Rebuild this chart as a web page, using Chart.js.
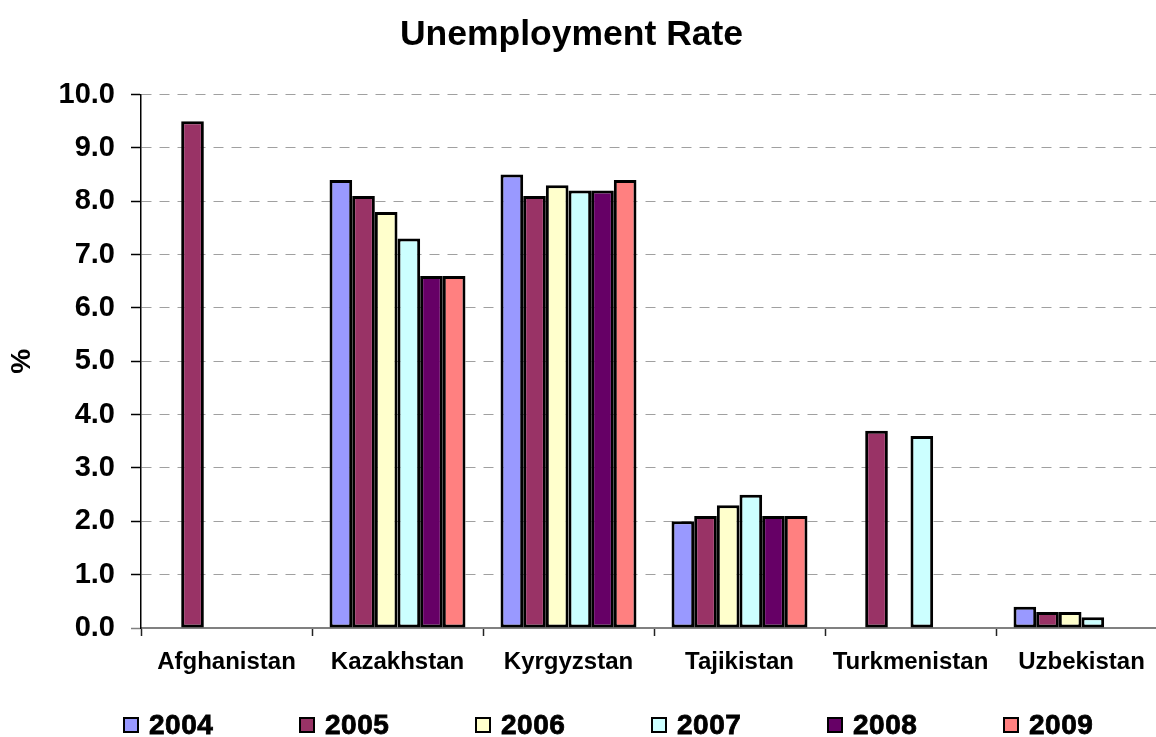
<!DOCTYPE html>
<html>
<head>
<meta charset="utf-8">
<title>Unemployment Rate</title>
<script src="https://cdn.jsdelivr.net/npm/chart.js@4.4.1/dist/chart.umd.min.js"></script>
<style>
  html, body { margin: 0; padding: 0; background: #fff; overflow: hidden; }
  #UnemploymentCanvas { display: block; }
</style>
</head>
<body>
<canvas id="UnemploymentCanvas" width="1170" height="737"></canvas>
<script>
//------------------------------------------------------------------------------
// Unemployment rate (%) by country, 2004-2009
//------------------------------------------------------------------------------
const countries = ['Afghanistan', 'Kazakhstan', 'Kyrgyzstan', 'Tajikistan', 'Turkmenistan', 'Uzbekistan']
const years = ['2004', '2005', '2006', '2007', '2008', '2009']

const rate2004 = [null, 8.4, 8.5, 2.0, null, 0.4]
const rate2005 = [9.5, 8.1, 8.1, 2.1, 3.7, 0.3]
const rate2006 = [null, 7.8, 8.3, 2.3, null, 0.3]
const rate2007 = [null, 7.3, 8.2, 2.5, 3.6, 0.2]
const rate2008 = [null, 6.6, 8.2, 2.1, null, null]
const rate2009 = [null, 6.6, 8.4, 2.1, null, null]

const yTicks = [0, 1, 2, 3, 4, 5, 6, 7, 8, 9, 10]

const yearColors = ['#9999FF', '#993366', '#FFFFCC', '#CCFFFF', '#660066', '#FF8080']
const yearRates = [rate2004, rate2005, rate2006, rate2007, rate2008, rate2009]

const fontFamily = '"Liberation Sans", Arial, Helvetica, sans-serif'

const canvas = document.getElementById('UnemploymentCanvas')

// Legend drawn along the bottom edge, one box + year per dataset
const bottomLegend = {
    id: 'bottomLegend',
    afterDraw(chart) {
        const ctx = chart.ctx
        const step = 176
        let x = chart.chartArea.left - 18
        const boxTop = 717
        const boxSize = 16
        ctx.save()
        ctx.font = 'bold 28px ' + fontFamily
        ctx.textBaseline = 'middle'
        ctx.textAlign = 'left'
        if ('letterSpacing' in ctx) ctx.letterSpacing = '0.5px'
        chart.data.datasets.forEach((ds) => {
            ctx.fillStyle = ds.backgroundColor
            ctx.fillRect(x, boxTop, boxSize, boxSize)
            ctx.lineWidth = 2
            ctx.strokeStyle = '#000'
            ctx.strokeRect(x + 1, boxTop + 1, boxSize - 2, boxSize - 2)
            // slightly heavier strokes for the year labels
            ctx.fillStyle = '#000'
            ctx.strokeStyle = '#000'
            ctx.lineWidth = 0.8
            ctx.fillText(ds.label, x + boxSize + 10, boxTop + boxSize / 2 + 1)
            ctx.strokeText(ds.label, x + boxSize + 10, boxTop + boxSize / 2 + 1)
            x += step
        })
        ctx.restore()
    }
}

const unemploymentChart = new Chart(canvas, {
    type: 'bar',
    data: {
        labels: countries,
        datasets: years.map((yr, i) => ({
            label: yr,
            data: yearRates[i],
            backgroundColor: yearColors[i],
            borderColor: '#000',
            borderWidth: 3,
            borderSkipped: false,
            categoryPercentage: 0.795,
            barPercentage: 1.0
        }))
    },
    options: {
        responsive: false,
        animation: false,
        devicePixelRatio: 1,
        layout: {
            padding: { left: -24, right: 3, top: 0, bottom: 49 }
        },
        plugins: {
            legend: { display: false },
            tooltip: { enabled: false },
            title: {
                display: true,
                text: 'Unemployment Rate',
                color: '#000',
                font: { family: fontFamily, size: 35.5, weight: 'bold' },
                padding: { top: 14, bottom: 38 }
            }
        },
        scales: {
            x: {
                afterFit(scale) { scale.height = 60 },
                grid: {
                    display: true,
                    offset: true,
                    drawOnChartArea: false,
                    drawTicks: true,
                    tickLength: 8,
                    tickColor: '#222',
                    tickWidth: 1.5
                },
                border: { display: true, color: '#808080', width: 2 },
                ticks: {
                    color: '#000',
                    padding: 12,
                    maxRotation: 0,
                    autoSkip: false,
                    font: { family: fontFamily, size: 24, weight: 'bold' }
                }
            },
            y: {
                min: 0,
                max: 10,
                afterFit(scale) { scale.width = 165 },
                afterBuildTicks(scale) { scale.ticks = yTicks.map(v => ({ value: v })) },
                title: {
                    display: true,
                    text: '%',
                    color: '#000',
                    font: { family: fontFamily, size: 28, weight: 'bold' },
                    padding: { top: 29, bottom: 0 }
                },
                grid: {
                    color: '#a0a0a0',
                    lineWidth: 1,
                    drawTicks: true,
                    tickLength: 10,
                    tickColor: (c) => (c.tick && c.tick.value === 0 ? '#808080' : '#000'),
                    tickWidth: 1.5
                },
                border: { display: true, color: '#000', width: 1.5, dash: [10, 8] },
                ticks: {
                    color: '#000',
                    padding: 16,
                    font: { family: fontFamily, size: 29, weight: 'bold' },
                    callback: (v) => Number(v).toFixed(1)
                }
            }
        }
    },
    plugins: [bottomLegend]
})
</script>
</body>
</html>
